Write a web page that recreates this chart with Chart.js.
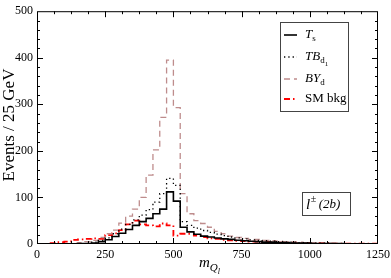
<!DOCTYPE html>
<html>
<head>
<meta charset="utf-8">
<script src="https://cdn.jsdelivr.net/npm/chart.js@4.4.0/dist/chart.umd.min.js"></script>
<style>
  html, body { margin: 0; padding: 0; background: #fff; }
  #wrap { width: 391px; height: 278px; }
</style>
</head>
<body>
<div id="wrap"><canvas id="chart" width="391" height="278"></canvas></div>
<script>
// bins are 25 GeV wide, 0 - 1250 GeV
const binWidth = 25;
const nBins = 50;

// events per bin, lower edge = i * 25
const tsVals = [0, 0, 0, 0, 0, 0.5, 1, 1, 2, 5,
  9, 16, 23, 31, 40, 48, 55, 65, 75, 112,
  92, 36, 26, 21, 17, 15, 13, 11, 10, 8,
  7, 6, 5, 4, 4, 3, 3, 2, 2, 2,
  1, 1, 1, 1, 1, 0.5, 0.5, 0.5, 0.5, 0];
const tbVals = [0, 0, 0, 0, 0, 0.5, 1, 2, 4, 8,
  13, 22, 32, 42, 52, 62, 74, 90, 108, 141,
  126, 48, 40, 34, 29, 25, 21, 18, 15, 13,
  11, 9, 8, 7, 6, 5, 4, 4, 3, 3,
  2, 2, 2, 1, 1, 1, 1, 0.5, 0.5, 0.5];
const byVals = [0, 0, 0, 0, 1, 2, 3, 5, 8, 14,
  22, 30, 45, 60, 75, 100, 148, 202, 272, 395,
  293, 108, 65, 50, 44, 36, 27, 22, 17, 14,
  12, 10, 10, 8, 7, 6, 5, 4, 4, 3,
  3, 2, 2, 2, 1, 1, 1, 1, 1, 0];
const smVals = [0, 0, 2, 4, 5, 9, 10, 11, 12, 11,
  19, 23, 30, 42, 50, 42, 40, 38, 44, 40,
  18, 22, 22, 18, 15, 12, 11, 9, 8, 7,
  6, 5, 5, 4, 4, 3, 3, 3, 2, 2,
  2, 2, 2, 1, 1, 1, 1, 1, 1, 1];

const xTicks = [0, 250, 500, 750, 1000, 1250];
const yTicks = [0, 100, 200, 300, 400, 500];

// step histogram points: lower edges + closing edge
function histPoints(vals) {
  const pts = vals.map((v, i) => ({ x: i * binWidth, y: v }));
  pts.push({ x: nBins * binWidth, y: vals[vals.length - 1] });
  return pts;
}

const serif = "'Liberation Serif', 'DejaVu Serif', serif";

function drawRich(ctx, x, y, parts) {
  let cx = x;
  parts.forEach(p => {
    ctx.font = p.font;
    ctx.fillText(p.t, cx, y + (p.dy || 0));
    cx += ctx.measureText(p.t).width + (p.gap || 0);
  });
  return cx;
}
function richWidth(ctx, parts) {
  let w = 0;
  parts.forEach(p => { ctx.font = p.font; w += ctx.measureText(p.t).width + (p.gap || 0); });
  return w;
}

const decor = {
  id: "decor",
  afterDraw(chart) {
    const ctx = chart.ctx;
    const a = chart.chartArea;
    const xs = chart.scales.x, ys = chart.scales.y;
    ctx.save();
    ctx.strokeStyle = "#000";
    ctx.lineWidth = 1;
    ctx.strokeRect(a.left + 0.5, a.top + 0.5, a.right - a.left - 1, a.bottom - a.top - 1);

    // inward ticks on all sides
    ctx.beginPath();
    for (let v = 20; v < 500; v += 20) {
      const y = Math.round(ys.getPixelForValue(v)) + 0.5;
      const len = v % 100 === 0 ? 6 : 3;
      ctx.moveTo(a.left, y); ctx.lineTo(a.left + len, y);
      ctx.moveTo(a.right, y); ctx.lineTo(a.right - len, y);
    }
    for (let v = 62.5; v < 1250; v += 62.5) {
      const x = Math.round(xs.getPixelForValue(v)) + 0.5;
      const len = v % 250 === 0 ? 6 : 3;
      ctx.moveTo(x, a.bottom); ctx.lineTo(x, a.bottom - len);
      ctx.moveTo(x, a.top); ctx.lineTo(x, a.top + len);
    }
    ctx.stroke();

    // legend
    ctx.fillStyle = "#fff";
    ctx.fillRect(280, 22, 68, 89);
    ctx.strokeStyle = "#444";
    ctx.strokeRect(280.5, 22.5, 68, 89);
    const rows = [
      { ds: 0, y: 35, parts: [{ t: "T", font: "italic 13px " + serif }, { t: "s", font: "9px " + serif, dy: 4 }] },
      { ds: 1, y: 57, parts: [{ t: "TB", font: "italic 13px " + serif }, { t: "d", font: "9px " + serif, dy: 4 }, { t: "1", font: "7px " + serif, dy: 7 }] },
      { ds: 2, y: 79, parts: [{ t: "BY", font: "italic 13px " + serif }, { t: "d", font: "9px " + serif, dy: 4 }] },
      { ds: 3, y: 99, parts: [{ t: "SM bkg", font: "13px " + serif }] }
    ];
    ctx.textBaseline = "middle";
    ctx.textAlign = "left";
    rows.forEach(r => {
      const d = chart.data.datasets[r.ds];
      ctx.strokeStyle = d.borderColor;
      ctx.lineWidth = d.borderWidth;
      ctx.setLineDash(d.borderDash || []);
      ctx.beginPath();
      ctx.moveTo(284, r.y); ctx.lineTo(297, r.y);
      ctx.stroke();
      ctx.setLineDash([]);
      ctx.fillStyle = "#000";
      drawRich(ctx, 305, r.y, r.parts);
    });

    // channel label box
    ctx.fillStyle = "#fff";
    ctx.fillRect(302, 192, 48, 23);
    ctx.strokeStyle = "#444";
    ctx.lineWidth = 1;
    ctx.strokeRect(302.5, 192.5, 48, 23);
    ctx.fillStyle = "#000";
    drawRich(ctx, 306, 205, [
      { t: "l", font: "italic 15px " + serif, gap: 0.5 },
      { t: "\u00b1", font: "10px " + serif, dy: -6, gap: 2.5 },
      { t: "(2", font: "italic 13px " + serif },
      { t: "b", font: "italic 13px " + serif },
      { t: ")", font: "italic 13px " + serif }
    ]);

    // x title
    const xParts = [
      { t: "m", font: "italic 15px " + serif },
      { t: "Q", font: "italic 11px " + serif, dy: 5 },
      { t: "l", font: "italic 8px " + serif, dy: 9 }
    ];
    const xw = richWidth(ctx, xParts);
    drawRich(ctx, (a.left + a.right) / 2 - xw / 2 + 2, 263, xParts);

    // y title
    ctx.save();
    ctx.translate(10, 125);
    ctx.rotate(-Math.PI / 2);
    ctx.textAlign = "center";
    ctx.font = "17px " + serif;
    ctx.fillText("Events / 25 GeV", 0, 0);
    ctx.restore();

    ctx.restore();
  }
};

new Chart(document.getElementById("chart"), {
  type: "line",
  data: {
    datasets: [
      {
        label: "Ts",
        data: histPoints(tsVals),
        borderColor: "#000",
        borderWidth: 1.6,
        stepped: true
      },
      {
        label: "TBd1",
        data: histPoints(tbVals),
        borderColor: "#000",
        borderWidth: 1.3,
        borderDash: [1.3, 3],
        stepped: true
      },
      {
        label: "BYd",
        data: histPoints(byVals),
        borderColor: "rgb(190,140,140)",
        borderWidth: 1.3,
        borderDash: [6, 4],
        stepped: true
      },
      {
        label: "SM bkg",
        data: histPoints(smVals),
        borderColor: "rgb(255,0,0)",
        borderWidth: 1.8,
        borderDash: [6, 3, 1.5, 3],
        stepped: true
      }
    ]
  },
  options: {
    responsive: false,
    animation: false,
    devicePixelRatio: 1,
    layout: { padding: { top: 5, right: 13, left: 0, bottom: 0 } },
    elements: { point: { radius: 0 }, line: { tension: 0 } },
    plugins: { legend: { display: false }, tooltip: { enabled: false } },
    scales: {
      x: {
        type: "linear",
        min: 0,
        max: 1250,
        grid: { display: false, drawTicks: false },
        border: { display: false },
        afterBuildTicks: (s) => { s.ticks = xTicks.map(v => ({ value: v })); },
        afterFit: (s) => { s.height = 34; s.paddingLeft = 0; s.paddingRight = 0; },
        ticks: { color: "#000", padding: 4, maxRotation: 0, autoSkip: false, callback: (v) => String(v), font: { family: serif, size: 12 } }
      },
      y: {
        min: 0,
        max: 500,
        grid: { display: false, drawTicks: false },
        border: { display: false },
        afterBuildTicks: (s) => { s.ticks = yTicks.map(v => ({ value: v })); },
        afterFit: (s) => { s.width = 37; },
        ticks: { color: "#000", padding: 4, callback: (v) => String(v), font: { family: serif, size: 12 } }
      }
    }
  },
  plugins: [decor]
});
</script>
</body>
</html>
